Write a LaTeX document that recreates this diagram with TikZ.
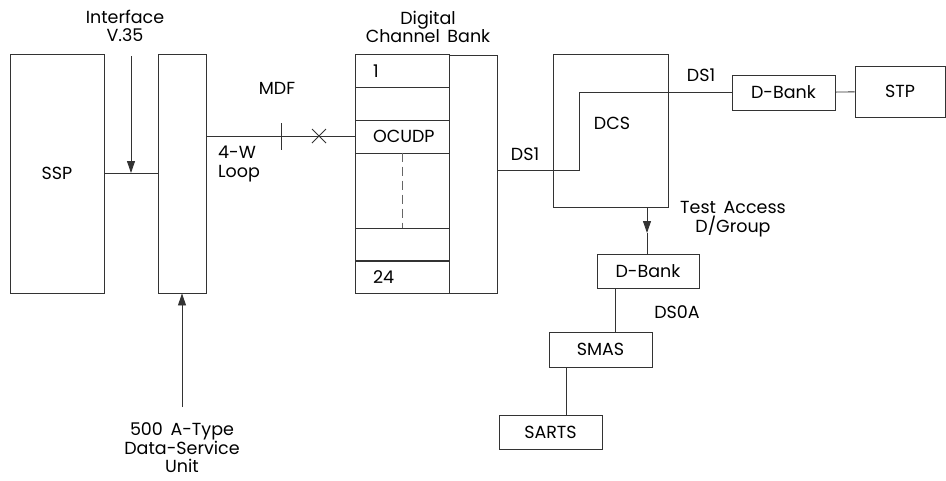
\documentclass[tikz,border=0pt]{standalone}
\usepackage{fontspec}
\setmainfont{Poppins}
\usetikzlibrary{arrows.meta}

\begin{document}
\begin{tikzpicture}[x=1pt, y=-1pt, >={Triangle[length=12pt,width=8pt]},
  line width=0.9pt, black!80,
  every node/.style={font=\fontsize{17.5}{18.5}\selectfont, text=black},
  box/.style={draw, rectangle, inner sep=0pt},
  slot/.style={box, minimum width=94pt, minimum height=33pt, text width=58pt, inner xsep=18pt, align=left}]

\useasboundingbox (0,0) rectangle (946,480);

% Define the nodes with coordinates
\node[box, minimum width=94pt, minimum height=239pt] (SSP) at (57,173.5) {SSP};
\node[box, minimum width=48pt, minimum height=239pt] (DSU) at (182,173.5) {};
\node[align=center] (IF) at (125,26) {Interface\\V.35};
\node[align=center] (DSUL) at (182,448) {500\, A-Type\\Data-Service\\Unit};
\node (MDF) at (277,88) {MDF};
\node[align=left] (LOOP) at (239,164) {4-W\\Loop};

% channel bank
\node[align=center] (CBL) at (428,27) {Digital\\Channel\, Bank};
\node[slot] (S1) at (402,71) {1};
\node[slot] (S2) at (402,103.5) {};
\node[slot] (OCU) at (402,136.5) {OCUDP};
\node[box, minimum width=94pt, minimum height=75pt] (SG) at (402,190.5) {};
\node[slot] (S23) at (402,244.5) {};
\node[slot] (S24) at (402,277) {24};
\node[box, minimum width=48pt, minimum height=238pt] (CB) at (473,174) {};

\node[box, minimum width=115pt, minimum height=153pt] (DCS) at (610.5,130.5) {};
\node (DCSL) at (612,123) {DCS};
\node[box, minimum width=103pt, minimum height=35pt] (DB1) at (783.5,92.5) {D-Bank};
\node[box, minimum width=90pt, minimum height=51pt] (STP) at (900,91.5) {STP};
\node[box, minimum width=102pt, minimum height=34pt] (DB2) at (648,271) {D-Bank};
\node[box, minimum width=103pt, minimum height=35pt] (SMAS) at (600.5,349.5) {SMAS};
\node[box, minimum width=103pt, minimum height=34pt] (SARTS) at (550.5,432) {SARTS};

\node (DS1a) at (525,154) {DS1};
\node (DS1b) at (701,75) {DS1};
\node[align=center] (TA) at (733,219) {Test\, Access\\D/Group};
\node (DS0A) at (677,312) {DS0A};

\coordinate (jn) at (131,173);
\coordinate (iftop) at (131,56);
\coordinate (dsutail) at (182,407);
\coordinate (mdf) at (281,136);
\coordinate (xm) at (319,136);
\coordinate (bend) at (579,170);
\coordinate (ta) at (647,233);
\coordinate (l1) at (615,310);
\coordinate (l2) at (566,400);

% Draw the edges
\draw (SSP.east |- jn) -- (DSU.west |- jn);
\draw[->] (iftop) -- (jn);
\draw[->] (dsutail) -- (DSU.south);
\draw (DSU.east |- OCU) -- (OCU.west);
\draw (mdf) ++(0,-13) -- ++(0,27);
\draw (xm) ++(-7,-7) -- ++(14,14) (xm) ++(-7,7) -- ++(14,-14);
\draw[dashed, dash pattern=on 9pt off 5pt, black!60] (SG.north) -- (SG.south);
\draw (CB.east |- bend) -- (bend) |- (DB1.west);
\draw (DB1) -- (STP);
\draw[->] (DCS.south -| ta) -- (ta);
\draw (ta) -- (DB2.north -| ta);
\draw (DB2.south -| l1) -- (SMAS.north -| l1);
\draw (SMAS.south -| l2) -- (SARTS.north -| l2);

\end{tikzpicture}
\end{document}
